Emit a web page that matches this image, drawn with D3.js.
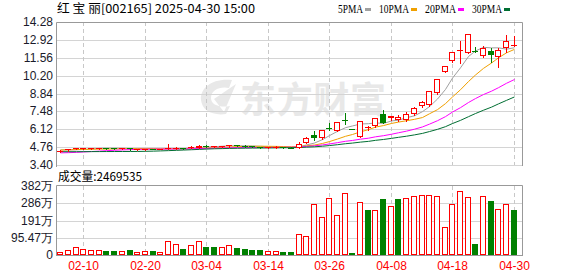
<!DOCTYPE html>
<html>
<head>
<meta charset="utf-8">
<script src="https://cdn.jsdelivr.net/npm/d3@7/dist/d3.min.js"></script>
<style>
body{margin:0;background:#fff;}
svg text{font-family:"Liberation Sans",Arial,sans-serif;}
</style>
</head>
<body>
<div id="chart"></div>
<script>
// trading days shown
const dates = ["02-05","02-06","02-07","02-10","02-11","02-12","02-13","02-14","02-17","02-18",
  "02-19","02-20","02-21","02-24","02-25","02-26","02-27","02-28","03-03","03-04",
  "03-05","03-06","03-07","03-10","03-11","03-12","03-13","03-14","03-17","03-18",
  "03-19","03-20","03-21","03-24","03-25","03-26","03-27","03-28","03-31","04-01",
  "04-02","04-03","04-07","04-08","04-09","04-10","04-11","04-14","04-15","04-16",
  "04-17","04-18","04-21","04-22","04-23","04-24","04-25","04-28","04-29","04-30"];

const opens = [4.42,4.52,4.60,4.64,4.66,4.68,4.70,4.67,4.63,4.66,
  4.58,4.59,4.62,4.60,4.62,4.65,4.70,4.74,4.72,4.85,
  4.80,4.81,4.82,4.90,4.88,4.82,4.77,4.72,4.74,4.77,
  4.72,4.72,5.08,5.70,5.45,6.22,6.00,6.85,6.15,5.54,
  6.18,6.38,7.25,6.96,6.80,6.85,7.28,7.92,7.95,8.85,
  10.50,11.30,12.10,11.92,12.08,11.68,12.10,11.62,12.28,12.52];
const highs = [4.52,4.62,4.72,4.70,4.72,4.73,4.72,4.69,4.68,4.67,
  4.63,4.64,4.64,4.65,5.00,4.74,4.72,4.82,4.90,4.90,
  4.86,4.88,4.94,4.95,4.90,4.84,4.80,4.78,4.82,4.78,
  4.74,5.15,5.50,5.99,6.03,6.63,6.68,7.32,6.15,6.77,
  6.40,6.95,7.60,7.15,7.20,7.40,7.85,8.30,9.02,9.92,
  10.91,12.00,12.85,13.33,12.40,12.42,12.30,12.30,13.30,13.18];
const lows = [4.40,4.50,4.58,4.60,4.63,4.65,4.64,4.62,4.61,4.56,
  4.55,4.57,4.58,4.58,4.60,4.63,4.64,4.66,4.70,4.80,
  4.76,4.79,4.80,4.84,4.80,4.75,4.70,4.70,4.72,4.70,
  4.66,4.70,5.05,5.32,5.40,6.05,5.95,6.55,6.15,5.54,
  6.10,6.30,6.58,6.80,6.72,6.75,7.22,7.85,7.90,8.80,
  10.45,11.25,11.15,11.90,12.00,11.60,11.20,10.85,11.98,12.42];
const closes = [4.50,4.60,4.66,4.68,4.69,4.70,4.67,4.64,4.66,4.58,
  4.60,4.62,4.60,4.62,4.66,4.70,4.66,4.78,4.86,4.84,
  4.82,4.85,4.92,4.88,4.82,4.77,4.73,4.75,4.77,4.72,
  4.68,5.02,5.45,5.48,6.03,6.20,6.65,6.83,6.15,6.77,
  6.32,6.95,6.62,7.10,7.05,7.25,7.70,8.20,9.02,9.92,
  10.91,12.00,12.12,13.33,12.02,12.30,11.78,12.15,12.82,12.55];
// closes of the 29 sessions before the window, only used for the moving averages
const preCloses = [4.65,4.62,4.60,4.58,4.60,4.62,4.60,4.58,4.55,4.52,
  4.30,4.20,4.10,4.05,4.00,4.02,4.05,4.10,4.12,4.15,
  4.40,4.50,4.55,4.58,4.60,4.62,4.60,4.55,4.48];
const volumes = [170000,260000,430000,310000,260000,260000,220000,220000,220000,270000,
  170000,220000,220000,170000,780000,610000,330000,540000,780000,440000,
  440000,440000,540000,390000,330000,270000,270000,220000,220000,170000,
  170000,1160000,1030000,2820000,2090000,3140000,2210000,3430000,110000,2930000,
  2490000,2490000,3100000,2710000,3100000,3140000,3270000,3320000,3320000,3270000,
  1550000,2820000,3540000,3210000,610000,3270000,2990000,2550000,2820000,2469535];

const priceTicks = [3.40,4.76,6.12,7.48,8.84,10.20,11.56,12.92,14.28];
const volTicks = [0,954700,1909400,2864100,3818800];
const volTickLabels = ["0","95.47万","191万","286万","382万"];
const dateTicks = ["02-10","02-20","03-04","03-14","03-26","04-08","04-18","04-30"];
const maPeriods = [5,10,20,30];
const maNames = ["5PMA","10PMA","20PMA","30PMA"];
const maColors = ["#a0a0a0","#f0a000","#ff00ff","#006e32"];

const W = 578, H = 276;
const left = 56, right = 522;
const pTop = 22, pBot = 165;
const vTop = 186, vBot = 255;
const UP = "#ff0000", DOWN = "#008000";

const svg = d3.select("#chart").append("svg")
  .attr("width", W).attr("height", H);

const x = d3.scaleBand().domain(dates).range([56.5, 517.6]);
const cx = d => Math.round(x(d) + x.bandwidth()/2);
const y = d3.scaleLinear().domain([priceTicks[0], priceTicks[priceTicks.length-1]]).range([pBot, pTop]);
const yv = d3.scaleLinear().domain([0, volTicks[volTicks.length-1]]).range([vBot, vTop]);

// watermark
const wm = svg.append("g").attr("fill", "#e8e8e8");
wm.append("path")
  .attr("d", "M232,80 C212,78 200,88 201,100 C202,110 212,116 226,114 L230,106 C220,108 211,105 211,98 C211,90 220,86 229,88 Z M214,99 L236,84 L224,112 Z");
wm.append("text")
  .attr("x", 240).attr("y", 113)
  .style("font-family", "'Noto Sans CJK SC'")
  .style("font-weight", "bold")
  .style("font-size", "36px")
  .attr("textLength", 146)
  .text("东方财富");

// grid - price
svg.append("g").selectAll("line").data(priceTicks.slice(0, -1)).enter().append("line")
  .attr("x1", left).attr("x2", right)
  .attr("y1", d => Math.round(y(d)) + 0.5).attr("y2", d => Math.round(y(d)) + 0.5)
  .attr("stroke", "#d4d4d4");
svg.append("g").selectAll("line").data(volTicks.slice(1, -1)).enter().append("line")
  .attr("x1", left).attr("x2", right)
  .attr("y1", d => Math.round(yv(d)) + 0.5).attr("y2", d => Math.round(yv(d)) + 0.5)
  .attr("stroke", "#d4d4d4");
// dashed verticals
[[pTop, pBot], [vTop, vBot]].forEach(r => {
  svg.append("g").selectAll("line").data(dateTicks).enter().append("line")
    .attr("x1", d => cx(d) + 0.5).attr("x2", d => cx(d) + 0.5)
    .attr("y1", r[0]).attr("y2", r[1])
    .attr("stroke", "#c8c8c8")
    .attr("stroke-dasharray", "4,3");
});

// frames
function frame(t, b){
  svg.append("path")
    .attr("d", "M" + (left+0.5) + "," + (b+1) + "V" + (t+0.5) + "H" + (right+0.5) + "V" + b)
    .attr("fill", "none").attr("stroke", "#999");
}
frame(Math.round(y(priceTicks[priceTicks.length-1])), pBot + 1);
frame(vTop - 1, vBot);
svg.append("line").attr("x1", left).attr("x2", right + 1)
  .attr("y1", vBot + 0.5).attr("y2", vBot + 0.5).attr("stroke", "#999");

// y labels
svg.append("g").selectAll("text").data(priceTicks).enter().append("text")
  .attr("x", 53).attr("y", d => y(d) + 4)
  .attr("text-anchor", "end")
  .style("font-size", "12px").attr("fill", "#1a1a2a")
  .text(d => d.toFixed(2));
svg.append("g").selectAll("text").data(volTicks).enter().append("text")
  .attr("x", 53).attr("y", (d, i) => (i == 0 ? vBot : yv(d)) + 4)
  .attr("text-anchor", "end")
  .style("font-size", "12px").attr("fill", "#1a1a2a")
  .text((d, i) => volTickLabels[i]);

// x labels
svg.append("g").selectAll("text").data(dateTicks).enter().append("text")
  .attr("x", d => cx(d) + 0.5).attr("y", 270)
  .attr("text-anchor", "middle")
  .style("font-size", "12px").attr("fill", "#ff0000")
  .text(d => d);

// moving averages
const allCloses = preCloses.concat(closes);
const off = preCloses.length;
maPeriods.forEach((n, k) => {
  const ma = closes.map((c, i) => d3.mean(allCloses.slice(off + i - n + 1, off + i + 1)));
  svg.append("path")
    .datum(ma)
    .attr("fill", "none")
    .attr("stroke", maColors[k])
    .attr("stroke-width", 1)
    .attr("d", d3.line().x((d, i) => cx(dates[i]) + 0.5).y(d => y(d)));
});

// candles
const prevClose = i => i == 0 ? preCloses[preCloses.length-1] : closes[i-1];
const isUp = i => closes[i] > opens[i] || (closes[i] == opens[i] && closes[i] >= prevClose(i));
const candles = svg.append("g");
dates.forEach((d, i) => {
  const c = cx(d);
  const col = isUp(i) ? UP : DOWN;
  const top = Math.round(y(Math.max(opens[i], closes[i])));
  const bot = Math.round(y(Math.min(opens[i], closes[i])));
  candles.append("line")
    .attr("x1", c + 0.5).attr("x2", c + 0.5)
    .attr("y1", Math.round(y(highs[i]))).attr("y2", Math.round(y(lows[i])) + 1)
    .attr("stroke", col);
  if (bot - top < 2) {
    candles.append("rect").attr("x", c - 3).attr("width", 6)
      .attr("y", top).attr("height", Math.max(1, bot - top)).attr("fill", col);
  } else if (isUp(i)) {
    candles.append("rect").attr("x", c - 2.5).attr("width", 5)
      .attr("y", top + 0.5).attr("height", bot - top - 1)
      .attr("fill", "#fff").attr("stroke", col);
  } else {
    candles.append("rect").attr("x", c - 3).attr("width", 6)
      .attr("y", top).attr("height", bot - top).attr("fill", col);
  }
});

// volume bars
const volUp = i => closes[i] >= prevClose(i);
const vbars = svg.append("g");
dates.forEach((d, i) => {
  const c = cx(d);
  const t = Math.round(yv(volumes[i]));
  if (volUp(i)) {
    vbars.append("rect").attr("x", c - 2.5).attr("width", 5)
      .attr("y", t + 0.5).attr("height", Math.max(0, vBot - t - 1))
      .attr("fill", "#fff").attr("stroke", UP);
  } else {
    vbars.append("rect").attr("x", c - 3).attr("width", 6)
      .attr("y", t).attr("height", vBot - t).attr("fill", DOWN);
  }
});

// title and legend
svg.append("text").attr("x", 57).attr("y", 13)
  .style("font-family", "'Noto Sans CJK SC','Liberation Sans'")
  .style("font-size", "12px").attr("fill", "#000")
  .attr("textLength", 198).attr("lengthAdjust", "spacingAndGlyphs")
  .text("红 宝 丽[002165] 2025-04-30 15:00");

const legX = [338, 379, 425, 472];
const legW = [25, 30, 31, 30];
maNames.forEach((nm, k) => {
  svg.append("text").attr("x", legX[k]).attr("y", 12.5)
    .style("font-family", "'Liberation Serif'")
    .style("font-size", "12px").attr("fill", "#000")
    .attr("textLength", legW[k]).attr("lengthAdjust", "spacingAndGlyphs")
    .text(nm);
  svg.append("rect").attr("x", legX[k] + legW[k] + 2).attr("y", 8)
    .attr("width", 6).attr("height", 3).attr("fill", maColors[k]);
});

svg.append("text").attr("x", 58).attr("y", 181)
  .style("font-family", "'Noto Sans CJK SC','Liberation Sans'")
  .style("font-size", "12px").attr("fill", "#000")
  .attr("textLength", 84).attr("lengthAdjust", "spacingAndGlyphs")
  .text("成交量:" + volumes[volumes.length-1]);
</script>
</body>
</html>
